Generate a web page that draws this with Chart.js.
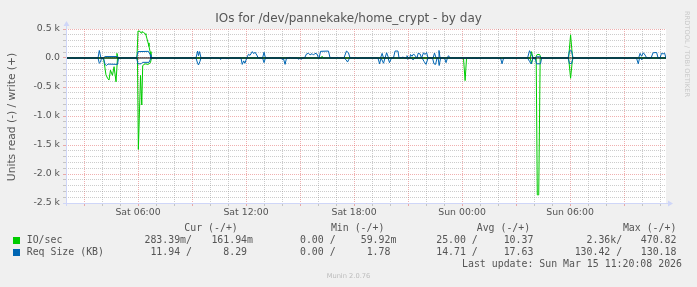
<!DOCTYPE html>
<html>
<head>
<meta charset="utf-8">
<script src="https://cdn.jsdelivr.net/npm/chart.js@4/dist/chart.umd.min.js"></script>
<style>
html,body{margin:0;padding:0;background:#f0f0f0;}
#wrap{position:relative;width:697px;height:287px;overflow:hidden;font-family:"DejaVu Sans",sans-serif;color:#555;}
#chart{position:absolute;left:0;top:0;}
.t{position:absolute;white-space:pre;line-height:12px;height:12px;}
.mono{font-family:"DejaVu Sans Mono",monospace;font-size:9.9px;}
.sq{position:absolute;width:7px;height:7px;}
</style>
</head>
<body>
<div id="wrap">
  <canvas id="chart" width="697" height="287"></canvas>
  <div class="t" style="left:0;width:697px;top:12px;text-align:center;font-size:12px;">IOs for /dev/pannekake/home_crypt - by day</div>
  <div class="t" style="left:-88px;width:200px;top:111px;text-align:center;font-size:10.7px;transform:rotate(-90deg);">Units read (-) / write (+)</div>
  <div class="t" style="left:587px;width:200px;top:48px;text-align:center;font-size:6.7px;color:#c8c8c8;transform:rotate(90deg);">RRDTOOL / TOBI OETIKER</div>
  <div id="legend"></div>
  <div class="t" style="left:0;width:697px;top:270px;text-align:center;font-size:6.7px;color:#bbb;">Munin 2.0.76</div>
</div>
<script>
// ── DATA ── time in hours since Sat 00:00, value = magnitude
const timeStart = 2, timeEnd = 35.33;

const ioWrite = [
  [2,0],[4.78,0],[4.83,80],[4.89,0],
  [5.94,0],[6.0,465],[6.11,460],[6.17,430],[6.22,455],[6.31,440],[6.39,420],[6.44,400],[6.5,330],[6.56,260],[6.61,200],[6.67,110],[6.72,0],
  [16.17,0],[16.22,30],[16.28,0],
  [27.78,0],[27.86,110],[27.94,0],
  [28.08,0],[28.17,60],[28.31,60],[28.39,0],
  [29.92,0],[30.03,400],[30.14,0],
  [35.33,0]
];
const ioRead = [
  [2,0],[4.08,0],[4.14,120],[4.22,290],[4.31,350],[4.39,380],[4.47,210],[4.58,300],[4.67,150],[4.78,410],[4.86,0],
  [5.97,0],[6.02,1575],[6.14,300],[6.21,810],[6.26,130],[6.39,100],[6.56,110],[6.69,80],[6.75,0],
  [24.08,0],[24.17,390],[24.25,0],
  [27.78,0],[27.86,100],[27.94,0],
  [28.12,0],[28.18,2360],[28.26,2360],[28.34,0],
  [29.92,0],[30.03,350],[30.14,0],
  [35.33,0]
];
const reqWrite = [
  [2,0],[3.78,0],[3.85,130],[3.94,0],
  [4.08,0],[4.17,25],[4.86,25],[4.92,0],
  [5.92,0],[6.0,110],[6.58,115],[6.67,60],[6.72,0],
  [9.22,0],[9.31,120],[9.36,40],[9.42,110],[9.5,0],
  [10.06,0],[10.11,15],[10.17,0],
  [12.03,0],[12.14,65],[12.22,45],[12.35,110],[12.43,75],[12.5,100],[12.6,50],[12.68,0],
  [12.92,0],[13.0,100],[13.08,0],
  [14.39,0],[14.44,15],[14.5,0],
  [15.25,0],[15.36,70],[15.47,80],[15.56,55],[15.67,75],[15.75,50],[15.83,80],[15.94,70],[16.03,0],
  [16.06,0],[16.14,115],[16.58,120],[16.67,0],
  [17.0,0],[17.06,15],[17.11,0],
  [17.44,0],[17.58,120],[17.69,90],[17.78,0],
  [18.0,0],[18.06,12],[18.11,0],
  [19.47,0],[19.56,80],[19.64,0],[19.72,0],[19.81,90],[19.92,0],[20.19,0],[20.28,120],[20.44,120],[20.5,0],
  [20.56,0],[20.72,15],[20.81,0],[20.89,0],[20.94,40],[21.03,0],[21.1,0],[21.14,60],[21.22,30],[21.31,70],[21.39,40],[21.5,0],
  [21.56,80],[21.67,70],[21.75,0],[21.86,90],[21.94,60],[22.03,95],[22.11,0],
  [22.39,0],[22.47,85],[22.56,0],[22.67,0],[22.72,130],[22.78,0],[23.17,0],[23.25,40],[23.33,0],
  [27.64,0],[27.75,126],[27.86,60],[27.94,0],
  [28.06,0],[28.14,20],[28.36,20],[28.42,0],
  [29.89,0],[29.97,125],[30.08,125],[30.17,0],
  [33.81,0],[33.89,80],[33.97,30],[34.07,90],[34.17,50],[34.26,0],
  [34.5,0],[34.61,90],[34.81,95],[34.89,0],[35.0,0],[35.08,80],[35.17,70],[35.25,85],[35.33,0]
];
const reqRead = [
  [2,0],[2.44,0],[2.5,8],[2.56,0],
  [3.78,0],[3.85,90],[3.92,70],[3.97,0],
  [4.08,0],[4.17,110],[4.25,130],[4.33,105],[4.86,110],[4.92,0],
  [5.92,0],[6.0,100],[6.17,100],[6.25,75],[6.61,75],[6.72,0],
  [9.22,0],[9.31,90],[9.36,120],[9.44,60],[9.5,0],
  [10.5,0],[10.56,20],[10.61,0],
  [10.89,0],[10.94,15],[11.0,0],
  [11.72,0],[11.79,110],[11.87,50],[11.94,90],[12.04,0],
  [12.92,0],[13.0,80],[13.08,0],
  [13.94,0],[14.0,25],[14.08,10],[14.17,110],[14.25,0],
  [14.83,0],[14.92,20],[15.0,5],[15.08,20],[15.17,0],
  [17.44,0],[17.56,30],[17.64,70],[17.72,20],[17.78,0],
  [18.17,0],[18.22,12],[18.28,0],
  [19.33,0],[19.42,100],[19.5,0],[19.64,90],[19.72,0],[19.89,0],[19.97,80],[20.08,0],
  [20.89,0],[20.97,20],[21.06,0],[21.17,0],[21.28,30],[21.39,0],
  [21.78,0],[21.89,60],[22.0,110],[22.11,0],[22.36,0],[22.44,100],[22.53,110],[22.61,0],[22.67,0],[22.73,130],[22.81,0],
  [23.03,0],[23.11,80],[23.19,0],
  [24.5,0],[24.56,8],[24.61,0],[24.78,0],[24.83,8],[24.89,0],[25.5,0],[25.56,8],[25.61,0],
  [26.14,0],[26.22,100],[26.31,0],
  [27.64,0],[27.75,60],[27.83,100],[27.94,0],
  [28.06,0],[28.14,100],[28.36,100],[28.42,0],
  [28.67,0],[28.72,8],[28.78,0],
  [29.89,0],[29.97,95],[30.08,95],[30.17,0],
  [30.67,0],[30.72,8],[30.78,0],[31.61,0],[31.67,8],[31.72,0],[33.11,0],[33.17,8],[33.22,0],
  [33.69,0],[33.79,100],[33.86,0],[33.94,0],[33.98,30],[34.03,0],
  [35.33,0]
];

const xTickHours  = [6, 12, 18, 24, 30];
const xTickLabels = ['Sat 06:00', 'Sat 12:00', 'Sat 18:00', 'Sun 00:00', 'Sun 06:00'];
const yTickValues = [500, 0, -500, -1000, -1500, -2000, -2500];
const yTickLabels = ['0.5 k', '0.0', '-0.5 k', '-1.0 k', '-1.5 k', '-2.0 k', '-2.5 k'];

// legend table (munin GPRINT rows)
const legendNames  = ['IO/sec', 'Req Size (KB)'];
const legendColors = ['#00cc00', '#0066b3'];
const curCol = [['283.39m/', '161.94m'], [' 11.94 /', '  8.29 ']];
const minCol = [['  0.00 /', ' 59.92m'], ['  0.00 /', '  1.78 ']];
const avgCol = [[' 25.00 /', ' 10.37 '], [' 14.71 /', ' 17.63 ']];
const maxCol = [['  2.36k/', '470.82 '], ['130.42 /', '130.18 ']];
const lastUpdate = 'Last update: Sun Mar 15 11:20:08 2026';

// ── LEGEND ──
const MGRID = 'rgba(222,80,80,0.45)';
const GRID  = 'rgba(143,143,143,0.45)';
const AXIS  = '#cfd6f8';

function span(txt, css) {
  return `<div class="t mono" style="${css}">${txt}</div>`;
}
(function buildLegend() {
  const W = 697;
  const heads = [['Cur (-/+)', 237.8], ['Min (-/+)', 384.4], ['Avg (-/+)', 530.2], ['Max (-/+)', 676.4]];
  const cols = [[curCol, 192, 253], [minCol, 335.6, 396.4], [avgCol, 477.8, 539.3], [maxCol, 622.2, 682.4]];
  const rowY = [234, 246];
  let html = '';
  heads.forEach(([h, end]) => { html += span(h, `right:${W - end}px;top:221.5px;`); });
  legendNames.forEach((n, i) => {
    html += `<div class="sq" style="left:13px;top:${rowY[i] + 2.5}px;background:${legendColors[i]}"></div>`;
    html += span(n, `left:26.7px;top:${rowY[i]}px;`);
    cols.forEach(([col, e1, e2]) => {
      html += span(col[i][0], `right:${W - e1}px;top:${rowY[i]}px;`);
      html += span(col[i][1], `right:${W - e2}px;top:${rowY[i]}px;`);
    });
  });
  html += span(lastUpdate, `right:${W - 682}px;top:257.5px;`);
  document.getElementById('legend').innerHTML = html;
})();

// ── CHART ──
const toXY = (arr, sign) => arr.map(([x, y]) => ({ x, y: sign * y }));

const hourTicks = [];
for (let h = 3; h <= 35; h++) hourTicks.push(h);
const yMinorTicks = [];
for (let v = -2500; v <= 500; v += 100) yMinorTicks.push(v);

const frame = {
  id: 'frame',
  beforeDraw(c) {
    const a = c.chartArea, ctx = c.ctx;
    ctx.save();
    ctx.fillStyle = '#fff';
    ctx.fillRect(a.left, a.top, a.right - a.left, a.bottom - a.top);
    ctx.restore();
  },
  afterDraw(c) {
    const a = c.chartArea, ctx = c.ctx;
    const lx = a.left + 0.5, by = a.bottom + 0.5;
    ctx.save();
    ctx.strokeStyle = AXIS; ctx.fillStyle = AXIS; ctx.lineWidth = 1;
    ctx.beginPath();
    ctx.moveTo(lx, a.bottom + 3); ctx.lineTo(lx, a.top - 4);
    ctx.moveTo(a.left - 3, by); ctx.lineTo(a.right + 4, by);
    ctx.stroke();
    ctx.beginPath();
    ctx.moveTo(lx, a.top - 8); ctx.lineTo(lx - 3, a.top - 3); ctx.lineTo(lx + 3, a.top - 3); ctx.closePath();
    ctx.fill();
    ctx.beginPath();
    ctx.moveTo(a.right + 7, by); ctx.lineTo(a.right + 2, by - 3); ctx.lineTo(a.right + 2, by + 3); ctx.closePath();
    ctx.fill();
    ctx.restore();
  }
};

const lineDs = (label, data, color, order, width) => ({
  label, data, borderColor: color, borderWidth: width || 1, pointRadius: 0, tension: 0, fill: false, order
});

new Chart(document.getElementById('chart'), {
  type: 'line',
  data: {
    datasets: [
      lineDs('zero', [{ x: timeStart, y: 0 }, { x: timeEnd, y: 0 }], '#000', 0, 1.2),
      lineDs('IO/sec read',   toXY(ioRead, -1),   legendColors[0], 2),
      lineDs('IO/sec write',  toXY(ioWrite, 1),   legendColors[0], 2),
      lineDs('Req Size read', toXY(reqRead, -1),  legendColors[1], 1),
      lineDs('Req Size write',toXY(reqWrite, 1),  legendColors[1], 1),
    ]
  },
  options: {
    responsive: false, animation: false, events: [],
    layout: { padding: { left: 0, top: 29, right: 31, bottom: 0 } },
    plugins: { legend: { display: false }, tooltip: { enabled: false } },
    scales: {
      x: {
        type: 'linear', min: timeStart, max: timeEnd,
        afterBuildTicks: s => { s.ticks = hourTicks.map(v => ({ value: v })); },
        afterFit: s => { s.height = 84; },
        grid: {
          color: c => (c.tick && c.tick.value % 3 === 0) ? MGRID : GRID,
          tickColor: c => (c.tick && c.tick.value % 3 === 0) ? MGRID : GRID,
          tickLength: 3, lineWidth: 1
        },
        border: { display: false, dash: [1, 1] },
        ticks: {
          autoSkip: false, maxRotation: 0, padding: 1, color: '#555',
          font: { family: 'DejaVu Sans', size: 9.33 },
          callback: v => { const i = xTickHours.indexOf(v); return i < 0 ? '' : xTickLabels[i]; }
        }
      },
      y: {
        min: -2500, max: 500,
        afterBuildTicks: s => { s.ticks = yMinorTicks.map(v => ({ value: v })); },
        afterFit: s => { s.width = 66; },
        grid: {
          color: c => (c.tick && c.tick.value % 500 === 0) ? MGRID : GRID,
          tickColor: c => (c.tick && c.tick.value % 500 === 0) ? MGRID : GRID,
          tickLength: 3, lineWidth: 1
        },
        border: { display: false, dash: [1, 1] },
        ticks: {
          autoSkip: false, padding: 3, color: '#555',
          font: { family: 'DejaVu Sans', size: 9.33 },
          callback: v => { const i = yTickValues.indexOf(v); return i < 0 ? '' : yTickLabels[i]; }
        }
      }
    }
  },
  plugins: [frame]
});
</script>
</body>
</html>
